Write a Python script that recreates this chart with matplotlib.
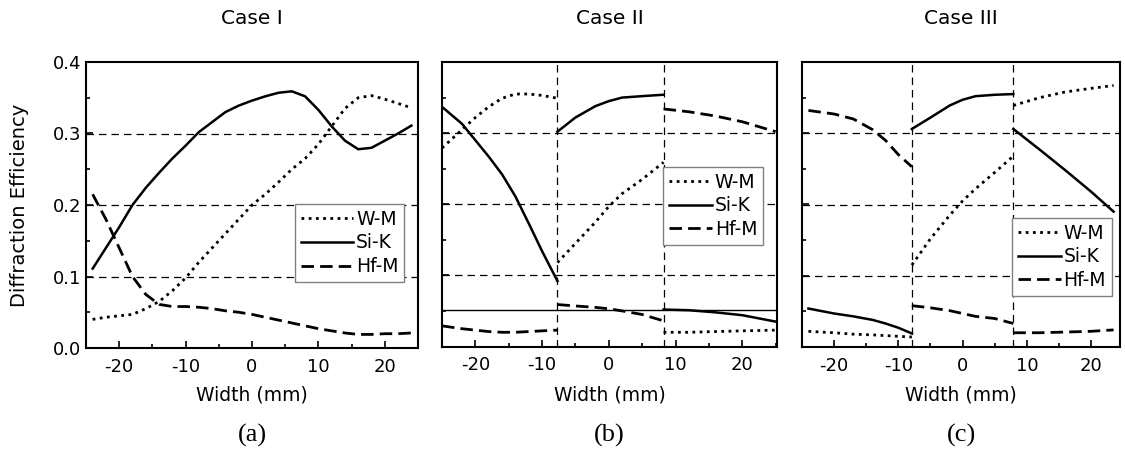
import matplotlib
matplotlib.use("Agg")
import matplotlib.pyplot as plt
from matplotlib.ticker import MultipleLocator

plt.rcParams["axes.unicode_minus"] = False

# Case I
case1_x = [-24, -22, -20, -18, -16, -14, -12, -10, -8, -6, -4, -2, 0, 2, 4, 6, 8, 10, 12, 14, 16, 18, 20, 22, 24]
case1_wm = [0.040, 0.043, 0.045, 0.047, 0.055, 0.065, 0.080, 0.098, 0.120, 0.140, 0.160, 0.180, 0.200,
            0.215, 0.232, 0.250, 0.265, 0.285, 0.310, 0.335, 0.350, 0.353, 0.348, 0.342, 0.336]
case1_sik = [0.111, 0.140, 0.169, 0.200, 0.224, 0.245, 0.265, 0.283, 0.302, 0.316, 0.330, 0.339, 0.346,
             0.352, 0.357, 0.359, 0.352, 0.333, 0.310, 0.290, 0.278, 0.280, 0.290, 0.300, 0.311]
case1_hfm = [0.215, 0.180, 0.140, 0.100, 0.075, 0.061, 0.058, 0.058, 0.057, 0.055, 0.052, 0.050, 0.047,
             0.043, 0.039, 0.035, 0.031, 0.027, 0.024, 0.021, 0.019, 0.019, 0.020, 0.020, 0.021]

# Case II (three segments)
case2_xl = [-25, -22, -20, -18, -16, -14, -12, -10, -7.7]
case2_wm_l = [0.279, 0.305, 0.322, 0.337, 0.349, 0.355, 0.355, 0.353, 0.349]
case2_sik_l = [0.337, 0.313, 0.290, 0.267, 0.242, 0.211, 0.173, 0.134, 0.092]
case2_hfm_l = [0.029, 0.025, 0.023, 0.021, 0.020, 0.020, 0.021, 0.022, 0.023]
case2_xm = [-7.7, -5, -2, 0, 2, 5, 8.2]
case2_wm_m = [0.118, 0.145, 0.175, 0.197, 0.215, 0.235, 0.259]
case2_sik_m = [0.302, 0.322, 0.338, 0.345, 0.350, 0.352, 0.354]
case2_hfm_m = [0.059, 0.057, 0.055, 0.053, 0.050, 0.045, 0.036]
case2_xr = [8.2, 12, 16, 20, 25]
case2_wm_r = [0.020, 0.020, 0.021, 0.022, 0.023]
case2_sik_r = [0.052, 0.051, 0.048, 0.044, 0.035]
case2_hfm_r = [0.334, 0.330, 0.324, 0.316, 0.302]
case2_bounds = [-7.7, 8.2]
case2_level = 0.052

# Case III (three segments)
case3_xl = [-24, -20, -17, -14, -12, -10, -7.9]
case3_wm_l = [0.022, 0.020, 0.018, 0.017, 0.016, 0.015, 0.014]
case3_sik_l = [0.054, 0.047, 0.043, 0.038, 0.033, 0.027, 0.019]
case3_hfm_l = [0.332, 0.327, 0.320, 0.305, 0.290, 0.270, 0.253]
case3_xm = [-7.9, -5, -2, 0, 2, 5, 7.9]
case3_wm_m = [0.115, 0.152, 0.185, 0.205, 0.222, 0.245, 0.268]
case3_sik_m = [0.306, 0.322, 0.339, 0.347, 0.352, 0.354, 0.355]
case3_hfm_m = [0.058, 0.055, 0.051, 0.047, 0.043, 0.040, 0.033]
case3_xr = [7.9, 12, 16, 20, 23.5]
case3_wm_r = [0.339, 0.350, 0.358, 0.363, 0.367]
case3_sik_r = [0.306, 0.277, 0.248, 0.218, 0.190]
case3_hfm_r = [0.020, 0.020, 0.021, 0.022, 0.024]
case3_bounds = [-7.9, 7.9]

titles = ["Case I", "Case II", "Case III"]
panel_labels = ["(a)", "(b)", "(c)"]
series_names = ["W-M", "Si-K", "Hf-M"]

WM = dict(color="black", lw=2.0, linestyle=(0, (1, 1.6)))
SIK = dict(color="black", lw=1.8, linestyle="-")
HFM = dict(color="black", lw=2.0, linestyle=(0, (4.5, 2.2)))
GRID = dict(color="black", lw=0.9, linestyle=(0, (6, 4)))

fig = plt.figure(figsize=(11.25, 4.51), dpi=100)
W, H = 1125, 451
boxes = [(86, 418, 62, 348), (442, 777, 62, 346.5), (802, 1120, 62, 347)]
xlims = [(-25, 25), (-25, 25.2), (-25, 24.5)]
leg_pos = [(0.63, 0.503), (0.66, 0.631), (0.66, 0.453)]
leg_hlen = [2.8, 2.3, 2.3]

axes = []
for i, (l, r, t, b) in enumerate(boxes):
    ax = fig.add_axes([l / W, 1 - b / H, (r - l) / W, (b - t) / H])
    ax.set_xlim(*xlims[i])
    ax.set_ylim(0, 0.4)
    ax.xaxis.set_major_locator(MultipleLocator(10))
    ax.xaxis.set_minor_locator(MultipleLocator(5))
    ax.yaxis.set_major_locator(MultipleLocator(0.1))
    ax.yaxis.set_minor_locator(MultipleLocator(0.05))
    ax.tick_params(which="both", direction="in", top=False, right=False, labelsize=13, width=1.2)
    ax.tick_params(which="major", length=5)
    ax.tick_params(which="minor", length=3)
    ax.tick_params(axis="x", pad=7)
    for s in ax.spines.values():
        s.set_linewidth(1.5)
    for yv in [0.1, 0.2, 0.3]:
        ax.axhline(yv, **GRID, zorder=1)
    if i == 0:
        ax.yaxis.set_major_formatter(plt.FormatStrFormatter("%.1f"))
    else:
        ax.set_yticklabels([])
    cx = (l + r) / 2 / W
    fig.text(cx, 1 - 18 / H, titles[i], ha="center", va="center", fontsize=14.5)
    fig.text(cx, 1 - 395 / H, "Width (mm)", ha="center", va="center", fontsize=13.5)
    fig.text(cx, 1 - 435 / H, panel_labels[i], ha="center", va="center", fontsize=19,
             family="Liberation Serif")
    axes.append(ax)

fig.text(20 / W, 1 - 205 / H, "Diffraction Efficiency", rotation=90, ha="center", va="center", fontsize=14)

# Case I
ax = axes[0]
h1, = ax.plot(case1_x, case1_wm, **WM, label=series_names[0])
h2, = ax.plot(case1_x, case1_sik, **SIK, label=series_names[1])
h3, = ax.plot(case1_x, case1_hfm, **HFM, label=series_names[2])

# Case II
ax = axes[1]
for xb in case2_bounds:
    ax.axvline(xb, **GRID, zorder=1)
ax.axhline(case2_level, color="black", lw=1.0, zorder=1)
for xs, wm, sk, hf in [(case2_xl, case2_wm_l, case2_sik_l, case2_hfm_l),
                       (case2_xm, case2_wm_m, case2_sik_m, case2_hfm_m),
                       (case2_xr, case2_wm_r, case2_sik_r, case2_hfm_r)]:
    ax.plot(xs, wm, **WM)
    ax.plot(xs, sk, **SIK)
    ax.plot(xs, hf, **HFM)

# Case III
ax = axes[2]
for xb in case3_bounds:
    ax.axvline(xb, **GRID, zorder=1)
for xs, wm, sk, hf in [(case3_xl, case3_wm_l, case3_sik_l, case3_hfm_l),
                       (case3_xm, case3_wm_m, case3_sik_m, case3_hfm_m),
                       (case3_xr, case3_wm_r, case3_sik_r, case3_hfm_r)]:
    ax.plot(xs, wm, **WM)
    ax.plot(xs, sk, **SIK)
    ax.plot(xs, hf, **HFM)

for ax, (lx, ly), hl in zip(axes, leg_pos, leg_hlen):
    leg = ax.legend([h1, h2, h3], series_names, loc="upper left", bbox_to_anchor=(lx, ly),
                    borderaxespad=0, fontsize=13.5, handlelength=hl, handletextpad=0.15,
                    labelspacing=0.25, borderpad=0.3, fancybox=False, framealpha=1)
    leg.get_frame().set_edgecolor("#808080")
    leg.get_frame().set_linewidth(1.0)

fig.savefig("out.png", dpi=100)
